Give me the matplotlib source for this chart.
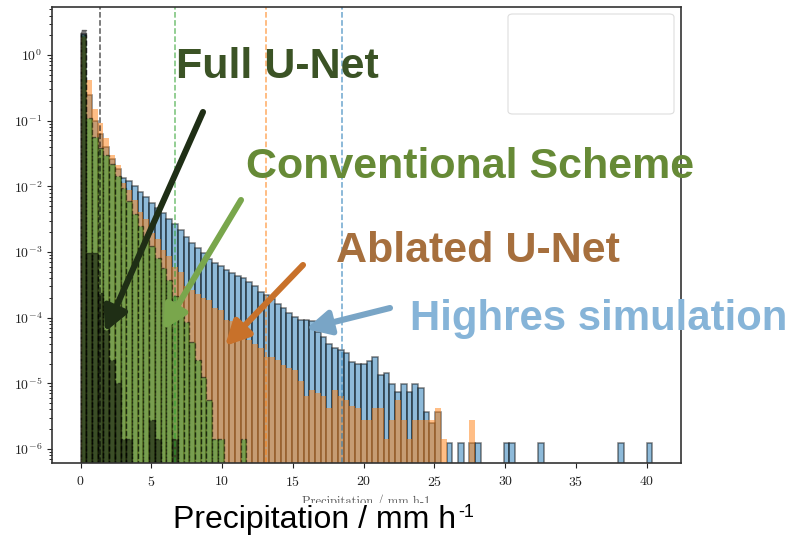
import numpy as np
import matplotlib
matplotlib.use('Agg')
import matplotlib.pyplot as plt
from matplotlib.patches import FancyArrowPatch, FancyBboxPatch, Rectangle

# shared bins (100 bins from 0 to 40.4 mm/h)
bin_edges = np.linspace(0, 40.4, 101)

# normalised histogram heights
highres = [2.1, 0.25, 0.1, 0.063, 0.04, 0.026, 0.0186, 0.0135, 0.012, 0.0102,
           0.0081, 0.0069, 0.0056, 0.0047, 0.0039, 0.0032, 0.0027, 0.0022, 0.0017, 0.00138,
           1.17e-3, 9.5e-4, 7.9e-4, 6.9e-4, 6.2e-4, 5.4e-4, 4.8e-4, 4.3e-4, 4.0e-4, 3.5e-4,
           3.0e-4, 2.5e-4, 2.2e-4, 1.9e-4, 1.6e-4, 1.38e-4, 1.17e-4, 1.02e-4, 9.1e-5, 9.1e-5,
           8.9e-5, 6.0e-5, 5.0e-5, 4.0e-5, 3.5e-5, 3.2e-5, 2.9e-5, 2.1e-5, 2.0e-5, 2.0e-5,
           2.2e-5, 2.5e-5, 1.35e-5, 1.45e-5, 9.8e-6, 7.4e-6, 9.8e-6, 7.4e-6, 9.8e-6, 8.6e-6,
           3.7e-6, 2.5e-6, 3.7e-6, 0, 1.23e-6, 0, 1.23e-6, 0, 1.23e-6, 1.23e-6,
           0, 0, 0, 0, 1.23e-6, 1.23e-6, 0, 0, 0, 0,
           1.23e-6, 0, 0, 0, 0, 0, 0, 0, 0, 0,
           0, 0, 0, 0, 1.23e-6, 0, 0, 0, 0, 1.23e-6]

ablated = [1.9, 0.42, 0.15, 0.091, 0.054, 0.030, 0.021, 0.0112, 0.0087, 0.0063,
           0.0040, 0.0032, 0.00195, 0.0016, 0.00107, 8.7e-4, 5.9e-4, 5.0e-4, 3.0e-4, 2.6e-4,
           2.3e-4, 2.0e-4, 1.86e-4, 1.4e-4, 1.3e-4, 9.3e-5, 8.9e-5, 6.0e-5, 5.0e-5, 4.6e-5,
           4.0e-5, 3.5e-5, 2.5e-5, 2.5e-5, 2.3e-5, 1.9e-5, 1.7e-5, 1.6e-5, 1.1e-5, 6.3e-6,
           7.9e-6, 7.1e-6, 6.3e-6, 4.2e-6, 8.0e-6, 6.3e-6, 5.5e-6, 4.5e-6, 4.2e-6, 2.8e-6,
           2.8e-6, 4.2e-6, 4.2e-6, 1.4e-6, 2.8e-6, 5.5e-6, 2.8e-6, 1.4e-6, 2.8e-6, 2.8e-6,
           2.8e-6, 2.8e-6, 4.2e-6, 1.4e-6, 0, 0, 0, 0, 2.8e-6, 0]

conventional = [2.0, 0.11, 0.056, 0.038, 0.030, 0.022, 0.0145, 0.0093, 0.0060, 0.0038,
                0.0025, 0.00174, 0.00123, 8.1e-4, 5.8e-4, 3.7e-4, 2.1e-4, 1.32e-4, 8.5e-5, 4.2e-5,
                2.3e-5, 1.26e-5, 5.6e-6, 1.4e-6, 1.4e-6, 0, 0, 0, 1.4e-6, 0]

full_unet = [2.4, 9.6e-4, 9.6e-4, 2.4e-4, 6.5e-5, 2.3e-5, 1.0e-5, 1.4e-6, 1.4e-6, 0,
             0, 0, 2.8e-6, 1.4e-6, 0, 0, 1.4e-6, 0, 0, 0]

# dashed threshold lines
thresholds = [1.34, 6.7, 13.1, 18.45]
threshold_colors = ['k', 'C2', 'C1', 'C0']

plt.rcParams['font.family'] = 'serif'
plt.rcParams['font.serif'] = ['cmr10']
plt.rcParams['mathtext.fontset'] = 'cm'
plt.rcParams['axes.formatter.use_mathtext'] = True

W, H = 794, 536
fig = plt.figure(figsize=(W / 100, H / 100), dpi=100)
ax = fig.add_axes([52 / W, 1 - 463 / H, (681 - 52) / W, (463 - 7) / H])


def draw_hist(values, **kw):
    v = np.array(values)
    n = len(v)
    left = bin_edges[:n]
    width = np.diff(bin_edges)[:n]
    keep = v > 0
    ax.bar(left[keep], v[keep], width=width[keep], align='edge', **kw)


draw_hist(highres, color='C0', alpha=0.5, edgecolor='k', linewidth=1.1)
draw_hist(ablated, color='C1', alpha=0.5, linewidth=0)
draw_hist(conventional, color='C2', alpha=0.5, edgecolor='k', linewidth=1.0, linestyle='--')
draw_hist(full_unet, color='k', alpha=0.5, edgecolor='k', linewidth=1.0, linestyle='--')

for xv, c in zip(thresholds, threshold_colors):
    ax.axvline(xv, color=c, ls='--', lw=1.1, alpha=0.65)

ax.set_yscale('log')
ax.set_xlim(-2.02, 42.42)
ax.set_ylim(6.1e-7, 5.4)
ax.set_xticks(range(0, 41, 5))
ax.tick_params(labelsize=10, colors='#222222')
ax.tick_params(axis='x', pad=5)
for s in ax.spines.values():
    s.set_linewidth(1.2)
    s.set_color('#333333')
ax.set_xlabel('Precipitation / mm h-1', fontsize=9, color='#555555', labelpad=4)

# faded legend frame (contents blanked out)
fig.add_artist(FancyBboxPatch((508 / W, 1 - 114 / H), 166 / W, 100 / H,
                              boxstyle='round,pad=0,rounding_size=0.006',
                              transform=fig.transFigure, fc='white', ec='#dddddd', lw=0.8))

# white strip hiding the lower part of the small x label
fig.add_artist(Rectangle((0, 0), 1, (H - 503) / H, transform=fig.transFigure,
                         fc='white', ec='none', zorder=5))

big = dict(fontweight='bold', family='Liberation Sans', va='baseline', zorder=10)
fig.text(176 / W, 1 - 78 / H, 'Full U-Net', color='#3b5325', fontsize=31, **big)
fig.text(246 / W, 1 - 178 / H, 'Conventional Scheme', color='#668a36', fontsize=31, **big)
fig.text(336 / W, 1 - 262 / H, 'Ablated U-Net', color='#a66f3d', fontsize=31, **big)
fig.text(410 / W, 1 - 330 / H, 'Highres simulation', color='#86b4d8', fontsize=30.2, **big)

# big axis caption with a small raised "-1"
cap = fig.text(173 / W, 1 - 528 / H, 'Precipitation / mm h', fontsize=23,
               family='Liberation Sans', color='black', va='baseline', zorder=10)
bb = cap.get_window_extent(renderer=fig.canvas.get_renderer())
fig.text((bb.x1 + 2) / fig.bbox.width, 1 - 517 / H, '-1', fontsize=13,
         family='Liberation Sans', color='black', va='baseline', zorder=10)

arrows = [((203, 112), (105, 332), '#1f2e15'),
          ((241, 200), (163, 330), '#79a64c'),
          ((303, 265), (225, 346), '#c8712a'),
          ((390, 308), (306, 329), '#79a5c6')]
for (x0, y0), (x1, y1), c in arrows:
    fig.add_artist(FancyArrowPatch((x0 / W, 1 - y0 / H), (x1 / W, 1 - y1 / H),
                                   transform=fig.transFigure,
                                   arrowstyle='-|>,head_length=0.55,head_width=0.28',
                                   mutation_scale=26, lw=4.4, color=c,
                                   shrinkA=0, shrinkB=0, zorder=10))

fig.savefig('out.png', dpi=100)
